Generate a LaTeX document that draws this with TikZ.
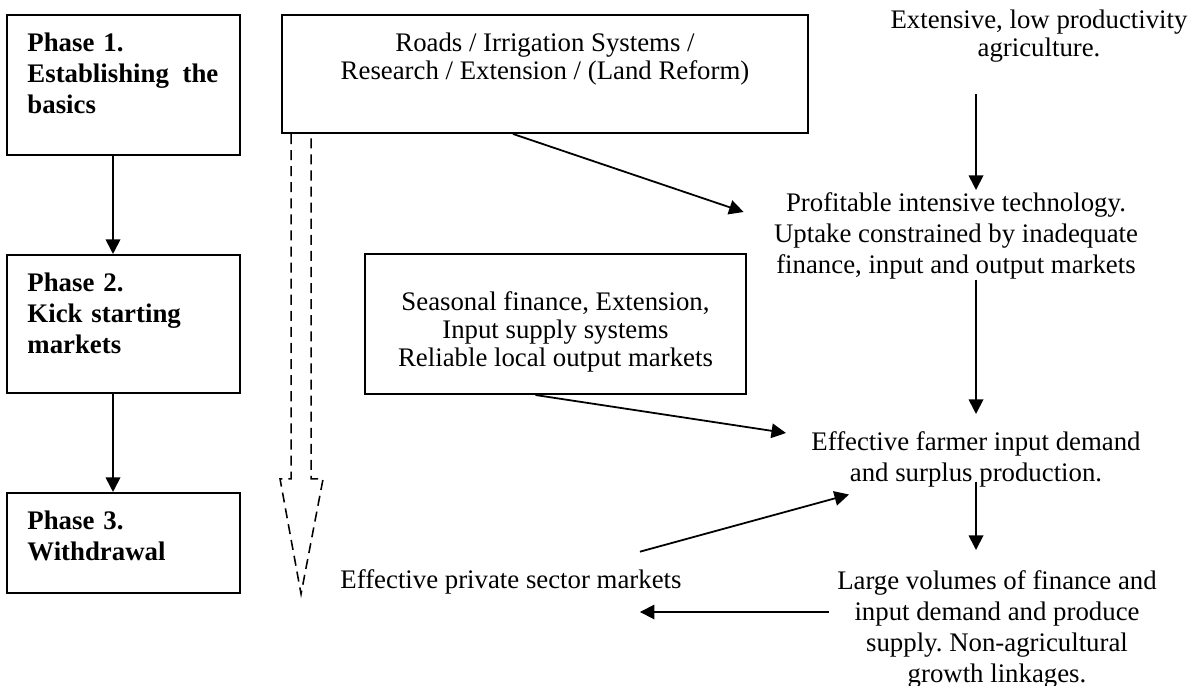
\documentclass[tikz,border=0pt]{standalone}
\usepackage{fontspec}
\setmainfont{Liberation Serif}
\usetikzlibrary{positioning,arrows.meta,calc}

\newcommand{\figfont}{\fontsize{12}{13.9}\selectfont}
\newcommand{\tightfont}{\fontsize{12}{12.6}\selectfont}
\frenchspacing

\begin{document}
\begin{tikzpicture}[
  x=0.4478pt, y=-0.4478pt,
  every node/.style={font=\figfont},
  block/.style={draw, line width=0.9pt, inner sep=0pt},
  phase/.style={block, minimum width=104.3pt},
  phasetxt/.style={font=\figfont\bfseries, text width=85.5pt, align=left, inner sep=0pt},
  txt/.style={align=center, inner sep=0pt},
  tight/.style={txt, font=\tightfont},
  arr/.style={-{Triangle[length=6.5pt, width=6.5pt]}, line width=0.8pt},
  hollow/.style={line width=0.7pt, dash pattern=on 4.5pt off 2.7pt}
]
\useasboundingbox (0,0) rectangle (1192,686);

% phases on the left
\node[phase, minimum height=62.7pt] (p1) at (123.5,85) {};
\node[phase, minimum height=61.8pt] (p2) at (123.5,324) {};
\node[phase, minimum height=44.8pt] (p3) at (123.5,543) {};
\node[phasetxt, below right=8.2pt and 9.4pt of p1.north west] (p1t) {Phase 1.\\Establishing\hfill the\\basics};
\node[phasetxt, below right=8.2pt and 9.4pt of p2.north west] (p2t) {Phase 2.\\Kick starting\\markets};
\node[phasetxt, below right=8.2pt and 9.4pt of p3.north west] (p3t) {Phase 3.\\Withdrawal};

% interventions
\node[block, minimum width=235.5pt, minimum height=52.8pt] (roads) at (545,74) {};
\node[tight, below=8.1pt of roads.north] (roadst) {Roads / Irrigation Systems /\\Research / Extension / (Land Reform)};
\node[block, minimum width=170.6pt, minimum height=62.7pt] (seas) at (555.5,324) {};
\node[tight, below=17pt of seas.north] (seast) {Seasonal finance, Extension,\\Input supply systems\\Reliable local output markets};

% outcomes
\node[tight, anchor=north] (ext) at (1039,9) {Extensive, low productivity\\agriculture.};
\node[txt, anchor=north] (prof) at (956,192) {Profitable intensive technology.\\Uptake constrained by inadequate\\finance, input and output markets};
\node[txt, anchor=north] (fd) at (976,431) {Effective farmer input demand\\and surplus production.};
\node[txt, anchor=north] (lv) at (997,570) {Large volumes of finance and\\input demand and produce\\supply. Non-agricultural\\growth linkages.};
\node[txt, anchor=base] (priv) at (511,588) {Effective private sector markets};

% connectors
\draw[arr] ([xshift=-4.7pt]p1.south) -- ([xshift=-4.7pt]p2.north);
\draw[arr] ([xshift=-4.7pt]p2.south) -- ([xshift=-4.7pt]p3.north);

\draw[arr] ($(ext.south -| fd.north)+(0,32)$) -- ($(prof.north -| fd.north)+(0,-2)$);
\draw[arr] (prof.south -| fd.north) -- ($(fd.north)+(0,-17)$);
\draw[arr] ($(fd.south)+(0,-6)$) -- ($(lv.north -| fd.north)+(0,-20)$);
\draw[arr] ($(roads.south)+(-32,0)$) -- ($(prof.north west)+(-30,20)$);
\draw[arr] ($(seas.south)+(-20,0)$) -- ($(fd.north west)+(-25,2)$);
\draw[arr] ($(priv.north east)+(-42,-17)$) -- ($(fd.south west)+(38,7)$);
\coordinate (lvout) at ($(lv.north west)+(-8,42)$);
\draw[arr] (lvout) -- ($(lvout -| priv.east)+(-42,0)$);

% hollow dashed arrow under the first box
\coordinate (dtop) at ($(roads.south west)+(10,0)$);
\draw[hollow] (dtop) -- ++(0,345) -- ++(-11,0) -- ++(21,115) -- ++(22,-115) -- ++(-12,0) -- ++(0,-345);
\end{tikzpicture}
\end{document}
